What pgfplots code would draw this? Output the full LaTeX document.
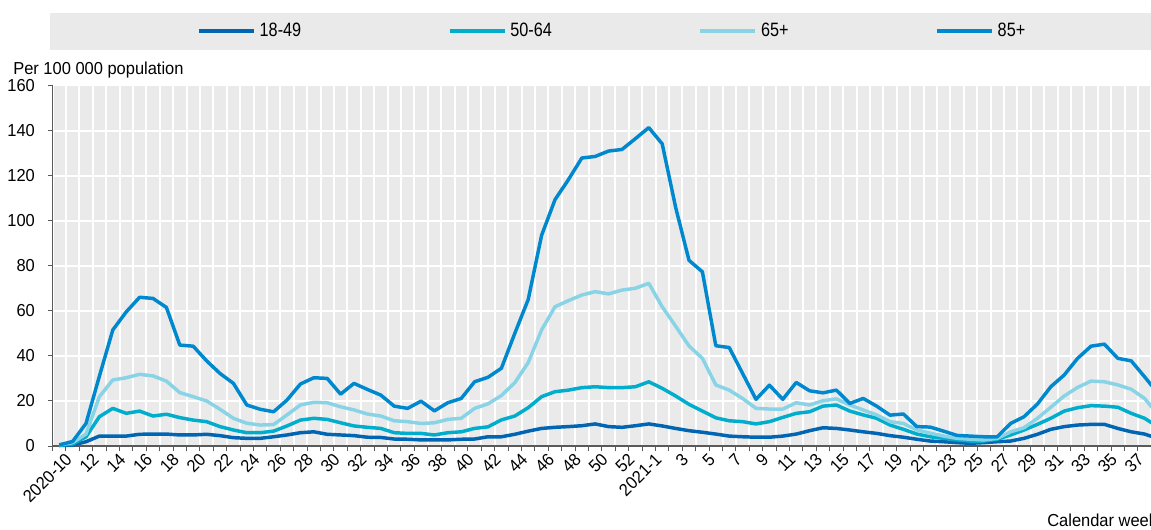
\documentclass[border=0pt]{standalone}
\usepackage{fontspec}
\setmainfont{Liberation Sans}[FakeStretch=0.95]
\newfontfamily\legfamily{Liberation Sans}[FakeStretch=0.84]
\usepackage{pgfplots}
\usepackage{pgfplotstable}
\pgfplotsset{compat=1.18}

\definecolor{plotbg}{RGB}{234,234,234}
\definecolor{axisgray}{RGB}{90,90,90}
\definecolor{cA}{RGB}{0,101,178}   % 18-49
\definecolor{cB}{RGB}{0,173,204}   % 50-64
\definecolor{cC}{RGB}{136,212,230} % 65+
\definecolor{cD}{RGB}{0,136,206}   % 85+

% week index (0 = 2020-W10 ... 82 = 2021-W39), rates per 100 000
\pgfplotstableread{
i  a    b     c     d
0  0.2  0.3   0.5   0.5
1  0.4  0.9   1.5   2
2  1.9  4.1   5.3   10
3  4.4  13    21.9  31
4  4.4  16.7  29.3  51.5
5  4.4  14.5  30.3  59.5
6  5.2  15.5  31.8  66
7  5.3  13.3  31.1  65.5
8  5.3  14.1  28.8  61.5
9  4.9  12.6  23.7  44.8
10 4.9  11.5  21.9  44.3
11 5.2  10.8  20    37.8
12 4.6  8.6   16.3  32.2
13 3.7  7.1   12.3  27.8
14 3.4  5.9   10.1  18.2
15 3.4  5.9   9.3   16.3
16 4.1  6.6   9.5   15.2
17 4.9  8.9   13.8  20.4
18 5.9  11.5  18.2  27.5
19 6.3  12.3  19.4  30.3
20 5.2  11.8  19.2  30
21 4.9  10.3  17.4  23
22 4.6  8.9   16    27.8
23 3.9  8.3   14.2  25.1
24 3.8  7.8   13.3  22.6
25 3.1  5.9   11.2  17.7
26 3    5.6   10.8  16.7
27 2.7  5.6   10    19.9
28 2.7  4.9   10.3  15.6
29 2.7  5.9   11.8  19.2
30 3    6.3   12.3  21.1
31 3.1  7.8   16.7  28.5
32 4.1  8.5   18.7  30.5
33 4.1  11.6  22.4  34.5
34 5.2  13.3  28.1  50
35 6.6  17    37    65
36 7.8  21.9  51.5  93.5
37 8.3  24.1  61.8  109.3
38 8.6  24.8  64.5  118.2
39 9    25.9  67    127.8
40 9.8  26.3  68.5  128.5
41 8.6  25.9  67.5  130.9
42 8.3  25.9  69.2  131.6
43 9    26.3  70    136.4
44 9.8  28.5  72.2  141.3
45 8.9  25.6  61.8  134.1
46 7.8  22.2  53.2  106
47 6.8  18.5  44.4  82.4
48 6.1  15.5  38.9  77.3
49 5.3  12.5  27.1  44.5
50 4.4  11.2  24.8  43.7
51 4.1  10.8  21.1  32.2
52 3.9  9.8   16.7  20.7
53 3.9  10.8  16.4  27
54 4.4  12.7  16.4  20.7
55 5.3  14.5  19.2  28.2
56 6.8  15.2  18.2  24.5
57 8.1  17.7  20.1  23.6
58 7.8  18.2  20.9  24.8
59 7.1  15.5  18.2  18.9
60 6.3  13.8  16    21.1
61 5.6  12.3  13.8  17.7
62 4.6  9.3   10.8  13.7
63 3.9  7.4   10    14.2
64 3    5.3   7.1   8.6
65 2.2  4.1   5.7   8.4
66 1.9  3.4   4.4   6.6
67 1.5  2.7   3.4   4.7
68 1.2  2.2   3     4.4
69 1.5  2.2   2.7   4.1
70 1.9  3     3.4   4.1
71 2.2  4.9   6.3   10
72 3.4  7.1   8.1   13
73 5.2  9.6   12.3  18.6
74 7.4  12.3  17.2  26.3
75 8.6  15.5  22.2  31.5
76 9.3  17    26    38.9
77 9.6  17.9  28.8  44.3
78 9.6  17.7  28.5  45.2
79 7.8  17.2  27.1  38.9
80 6.3  14.5  25.2  37.8
81 5.3  12.3  21.1  30.7
82 3.3  8.5   14    23.4
}\rates

\newcommand{\lblfont}{\fontsize{13pt}{15pt}\selectfont}
\newcommand{\legfont}{\legfamily\fontsize{14.5pt}{16pt}\selectfont}

\begin{document}
\begin{tikzpicture}
% grey band behind the legend
\fill[plotbg] (-1.9pt,297pt) rectangle (900pt,324.75pt);
\begin{axis}[
  at={(0,0)}, anchor=south west,
  scale only axis, width=834.15pt, height=270.4pt,
  xmin=-0.5, xmax=82.5, ymin=0, ymax=160,
  clip=false,
  axis background/.style={fill=plotbg},
  axis x line*=bottom, axis y line*=left,
  axis line style={draw=axisgray, line width=1pt, -},
  tick align=outside,
  ytick={0,20,...,160},
  ymajorgrids,
  major grid style={white, line width=1.5pt},
  xtick={0,2,...,82},
  xticklabels={2020-10,12,14,16,18,20,22,24,26,28,30,32,34,36,38,40,42,44,46,48,50,52,
               2021-1,3,5,7,9,11,13,15,17,19,21,23,25,27,29,31,33,35,37,39},
  major x tick style={draw=none},
  minor xtick={-0.5,0.5,...,82.5},
  xminorgrids,
  minor grid style={white, line width=1.5pt},
  minor x tick style={draw=axisgray, line width=0.75pt},
  minor tick length=4pt,
  major tick length=3pt,
  y tick style={draw=axisgray, line width=0.75pt},
  /pgf/number format/assume math mode=true,
  ticklabel style={font=\lblfont},
  yticklabel style={inner sep=0pt, xshift=-10pt},
  xticklabel style={rotate=45, anchor=east, inner sep=0pt, xshift=1.75pt, yshift=-8.5pt},
  legend columns=4,
  legend style={draw=none, fill=none, inner sep=0pt, font=\legfont,
    at={(0.1299,1.151)}, anchor=west,
    nodes={inner xsep=0pt, inner ysep=1pt},
    /tikz/every odd column/.append style={column sep=3pt},
    /tikz/every even column/.append style={column sep=110pt}},
  legend image code/.code={\draw[#1] (0pt,0pt) -- (41.25pt,0pt);},
  every axis plot/.append style={line width=2.6pt, line join=round},
]
\addplot[cA] table[x=i, y=a] {\rates};
\addlegendentry{18-49}
\addplot[cB] table[x=i, y=b] {\rates};
\addlegendentry{50-64}
\addplot[cC] table[x=i, y=c] {\rates};
\addlegendentry{65+}
\addplot[cD] table[x=i, y=d] {\rates};
\addlegendentry{85+}
\node[anchor=base west, inner sep=0pt, font=\lblfont] at (axis description cs:-0.0355,1.0318) {Per 100 000 population};
\node[anchor=base west, inner sep=0pt, font=\lblfont] at (axis description cs:0.8942,-0.2219) {Calendar week};
\end{axis}
\pgfresetboundingbox
\path[use as bounding box] (-39.375pt,-62.25pt) rectangle (823.875pt,334.5pt);
\end{tikzpicture}
\end{document}
